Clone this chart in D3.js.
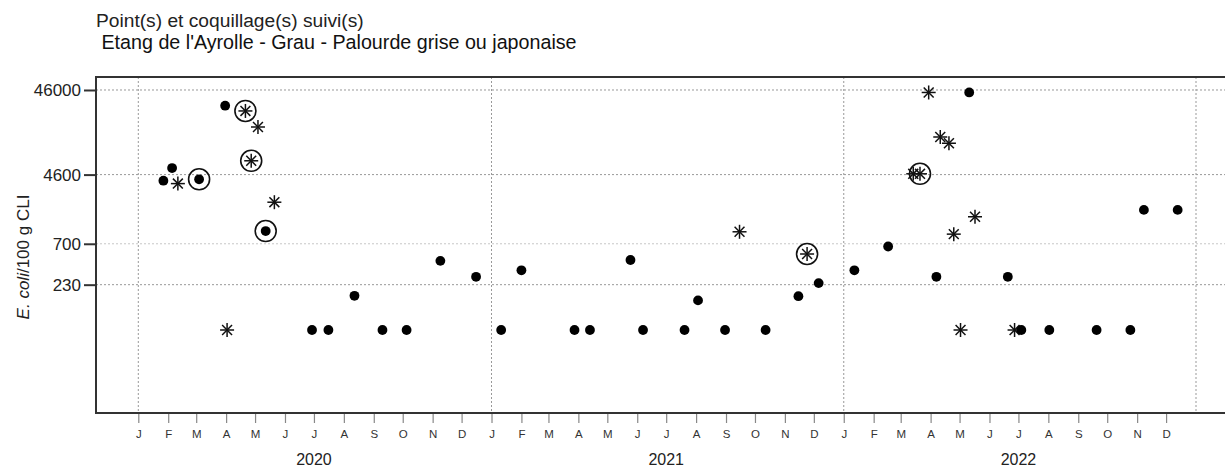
<!DOCTYPE html>
<html>
<head>
<meta charset="utf-8">
<script src="https://cdn.jsdelivr.net/npm/d3@7"></script>
<style>
  body { margin: 0; background: #fff; }
  svg { font-family: "Liberation Sans", Arial, sans-serif; }
</style>
</head>
<body>
<svg id="chart" width="1225" height="468"></svg>
<script>
// sample dates, E. coli counts, marker type, circled flag
const sampleDates = [
  "2020-01-27", "2020-02-05", "2020-02-11", "2020-03-04", "2020-03-31", "2020-04-02",
  "2020-04-21", "2020-04-27", "2020-05-04", "2020-05-12", "2020-05-21", "2020-06-29",
  "2020-07-16", "2020-08-12", "2020-09-10", "2020-10-05", "2020-11-09", "2020-12-16",
  "2021-01-11", "2021-02-01", "2021-03-28", "2021-04-13", "2021-05-25", "2021-06-07",
  "2021-07-20", "2021-08-03", "2021-08-31", "2021-09-15", "2021-10-12", "2021-11-15",
  "2021-11-24", "2021-12-06",
  "2022-01-12", "2022-02-16", "2022-03-14", "2022-03-21", "2022-03-30", "2022-04-07",
  "2022-04-11", "2022-04-20", "2022-04-25", "2022-05-02", "2022-05-11", "2022-05-17",
  "2022-06-20", "2022-06-27", "2022-07-04", "2022-08-02", "2022-09-20", "2022-10-25",
  "2022-11-08", "2022-12-13"
];
const ecoliValues = [
  3900, 5500, 3600, 4050, 30000, 67,
  26000, 6700, 16800, 990, 2170, 67,
  67, 170, 67, 67, 440, 285,
  67, 340, 67, 67, 450, 67,
  67, 150, 67, 970, 67, 168,
  530, 240,
  340, 650, 4700, 4700, 43000, 285,
  12800, 10800, 910, 67, 43000, 1460,
  285, 67, 67, 67, 67, 67,
  1760, 1760
];
const symbols = [
  "dot", "dot", "star", "dot", "dot", "star",
  "star", "star", "star", "dot", "star", "dot",
  "dot", "dot", "dot", "dot", "dot", "dot",
  "dot", "dot", "dot", "dot", "dot", "dot",
  "dot", "dot", "dot", "star", "dot", "dot",
  "star", "dot",
  "dot", "dot", "star", "star", "star", "dot",
  "star", "star", "star", "star", "dot", "star",
  "dot", "star", "dot", "dot", "dot", "dot",
  "dot", "dot"
];
const circled = [
  0, 0, 0, 1, 0, 0,
  1, 1, 0, 1, 0, 0,
  0, 0, 0, 0, 0, 0,
  0, 0, 0, 0, 0, 0,
  0, 0, 0, 0, 0, 0,
  1, 0,
  0, 0, 0, 1, 0, 0,
  0, 0, 0, 0, 0, 0,
  0, 0, 0, 0, 0, 0,
  0, 0
];

const yTicks = [230, 700, 4600, 46000];
const monthLetters = ["J", "F", "M", "A", "M", "J", "J", "A", "S", "O", "N", "D"];
const years = [2020, 2021, 2022];
const titleLine1 = "Point(s) et coquillage(s) suivi(s)";
const titleLine2 = " Etang de l'Ayrolle - Grau - Palourde grise ou japonaise";

const box = { left: 96, right: 1228, top: 77, bottom: 413 };
const svg = d3.select("#chart");
const parse = d3.utcParse("%Y-%m-%d");

const x = d3.scaleUtc()
  .domain([new Date(Date.UTC(2020, 0, 1)), new Date(Date.UTC(2023, 0, 1))])
  .range([138.3, 1196]);
const y = d3.scaleLog()
  .domain([7, 65500])
  .range([box.bottom, box.top]);

// titles
svg.append("text")
  .attr("x", 96).attr("y", 27)
  .style("font-size", "19.2px").attr("fill", "#222")
  .text(titleLine1);
svg.append("text")
  .attr("x", 96).attr("y", 49)
  .style("font-size", "19.7px").attr("fill", "#111")
  .style("white-space", "pre").attr("xml:space", "preserve")
  .text(titleLine2);

// grid
const grid = svg.append("g");
grid.selectAll("line.h")
  .data(yTicks)
  .join("line")
  .attr("x1", box.left).attr("x2", box.right)
  .attr("y1", d => y(d)).attr("y2", d => y(d))
  .attr("stroke", d => d === 700 ? "#c8c8c8" : "#999")
  .attr("stroke-dasharray", "2,2");
const yearStarts = [2020, 2021, 2022, 2023].map(yr => new Date(Date.UTC(yr, 0, 1)));
grid.selectAll("line.v")
  .data(yearStarts)
  .join("line")
  .attr("x1", d => x(d)).attr("x2", d => x(d))
  .attr("y1", box.top).attr("y2", box.bottom)
  .attr("stroke", "#999")
  .attr("stroke-dasharray", "2,2");

// y axis
const yAxis = svg.append("g")
  .attr("transform", `translate(${box.left},0)`)
  .call(d3.axisLeft(y).tickValues(yTicks).tickFormat(d3.format("d")).tickSize(12).tickPadding(3));
yAxis.select(".domain").remove();
yAxis.selectAll(".tick line").attr("stroke", "#333").attr("stroke-width", 2);
yAxis.selectAll(".tick text")
  .style("font-size", "17px").attr("fill", "#222")
  .attr("font-family", "Liberation Sans, Arial, sans-serif");

// x axis (months)
const months = d3.utcMonths(new Date(Date.UTC(2020, 0, 1)), new Date(Date.UTC(2023, 0, 1)));
const xAxis = svg.append("g")
  .attr("transform", `translate(0,${box.bottom})`)
  .call(d3.axisBottom(x).tickValues(months)
    .tickFormat(d => monthLetters[d.getUTCMonth()])
    .tickSize(10).tickPadding(7));
xAxis.select(".domain").remove();
xAxis.selectAll(".tick line").attr("stroke", "#888").attr("stroke-width", 1.2);
xAxis.selectAll(".tick text")
  .style("font-size", "11.5px").attr("fill", "#333")
  .attr("font-family", "Liberation Sans, Arial, sans-serif");

svg.append("g")
  .selectAll("text")
  .data(years)
  .join("text")
  .attr("x", d => x(new Date(Date.UTC(d, 6, 1))))
  .attr("y", 465)
  .attr("text-anchor", "middle")
  .style("font-size", "16px").attr("fill", "#222")
  .text(d => d);

// y label
const yLab = svg.append("text")
  .attr("transform", "translate(29,257) rotate(-90)")
  .attr("text-anchor", "middle")
  .style("font-size", "17px").attr("fill", "#222");
yLab.append("tspan").style("font-style", "italic").text("E. coli");
yLab.append("tspan").text("/100 g CLI");

// box
svg.append("rect")
  .attr("x", box.left).attr("y", box.top)
  .attr("width", box.right - box.left).attr("height", box.bottom - box.top)
  .attr("fill", "none").attr("stroke", "#333").attr("stroke-width", 2);

// points
const points = sampleDates.map((d, i) => ({
  date: parse(d), value: ecoliValues[i], symbol: symbols[i], circled: circled[i]
}));
const marks = svg.append("g")
  .selectAll("g")
  .data(points)
  .join("g")
  .attr("transform", d => `translate(${x(d.date)},${y(d.value)})`);

marks.filter(d => d.symbol === "dot")
  .append("circle")
  .attr("r", 4.9)
  .attr("fill", "#000");

const armAngles = [0, 45, 90, 135];
marks.filter(d => d.symbol === "star")
  .selectAll("line")
  .data(armAngles)
  .join("line")
  .attr("x1", -7).attr("x2", 7)
  .attr("y1", 0).attr("y2", 0)
  .attr("transform", a => `rotate(${a})`)
  .attr("stroke", "#111")
  .attr("stroke-width", 1.5);

marks.filter(d => d.circled)
  .append("circle")
  .attr("r", 10.5)
  .attr("fill", "none")
  .attr("stroke", "#111")
  .attr("stroke-width", 1.6);
</script>
</body>
</html>
